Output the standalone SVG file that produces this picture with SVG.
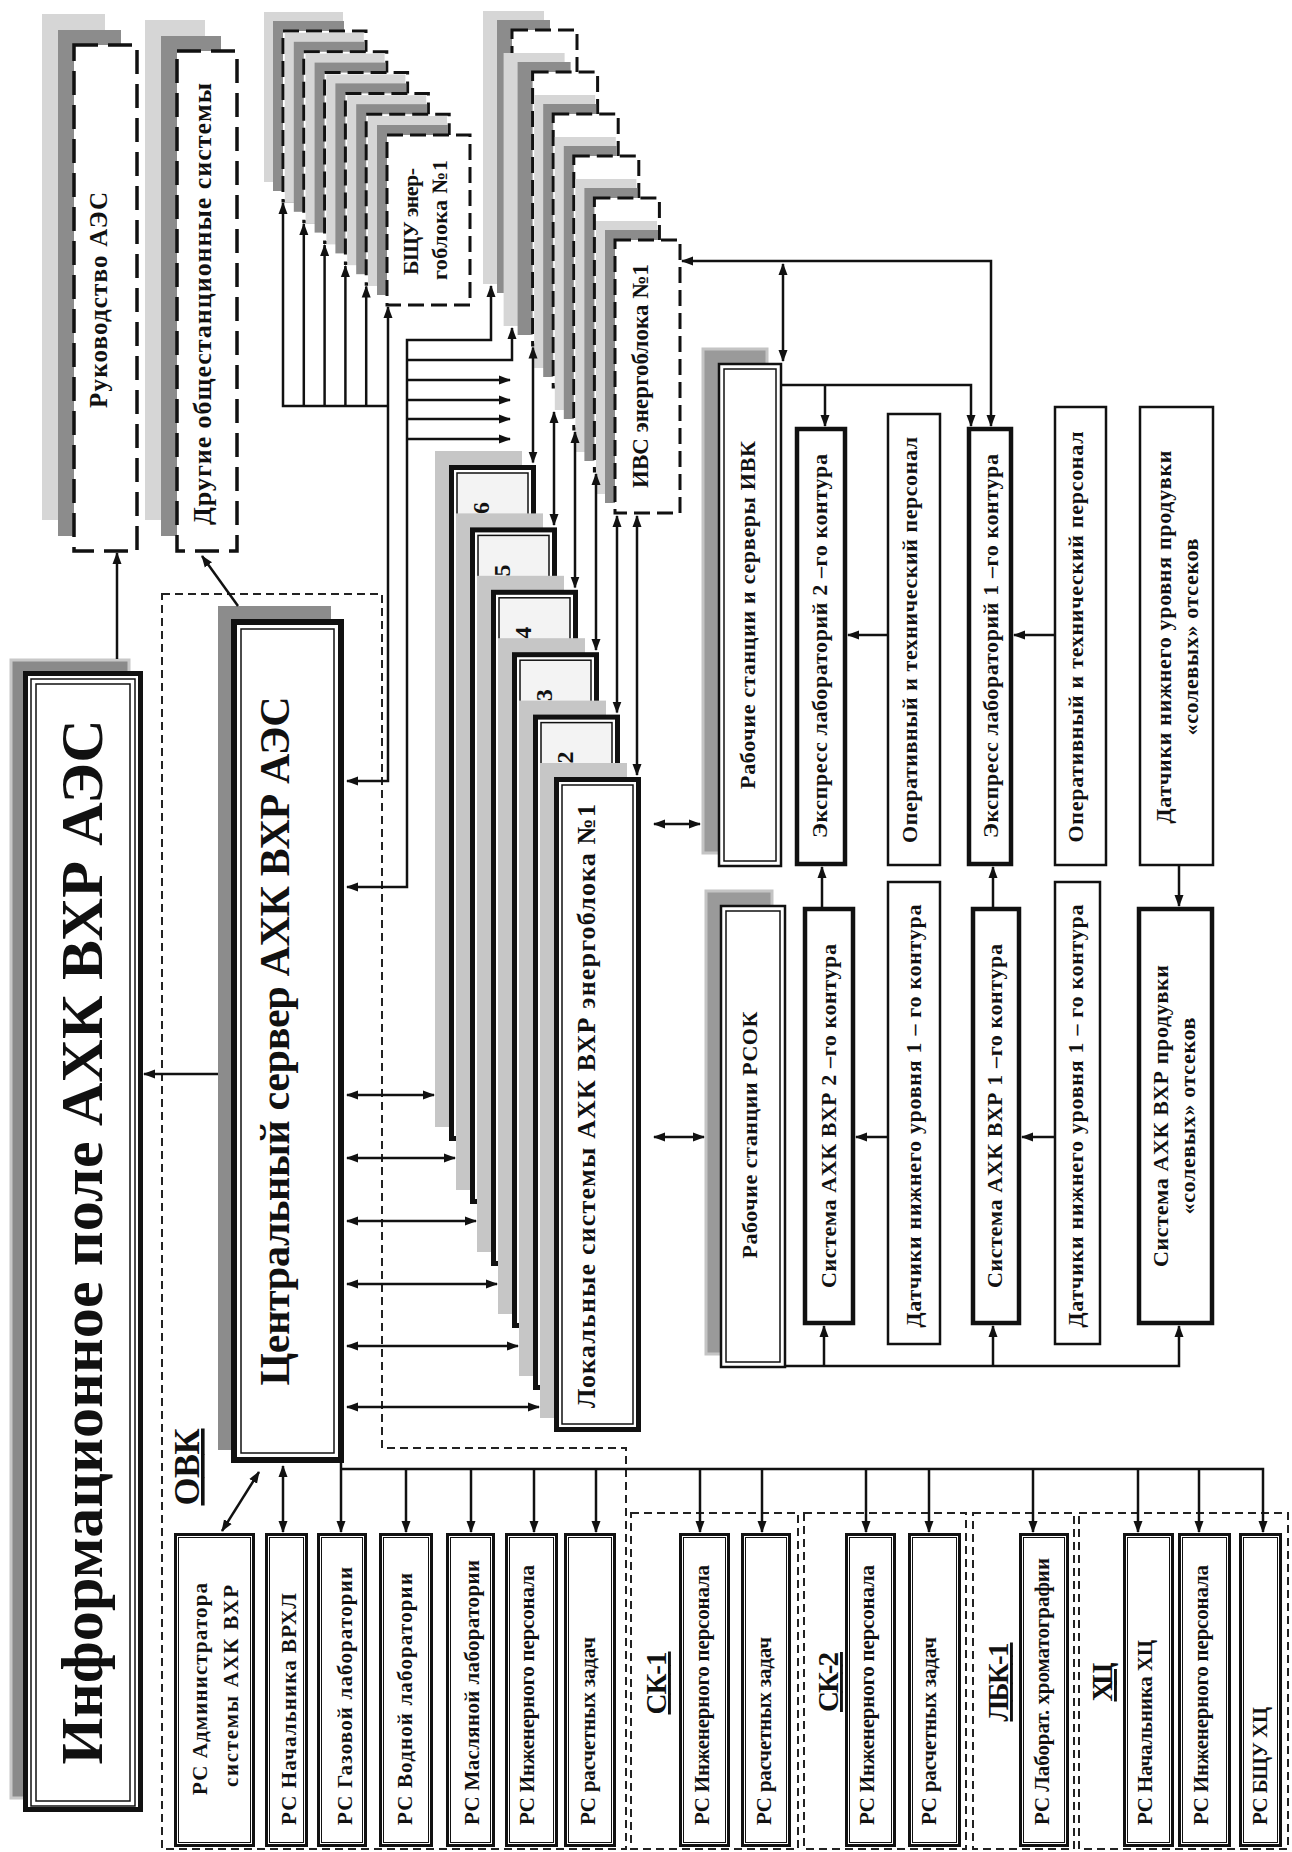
<svg xmlns="http://www.w3.org/2000/svg" width="1292" height="1852" viewBox="0 0 1292 1852">
<defs>
<style>
.t{font-family:"Liberation Serif","Times New Roman",serif;font-weight:bold;fill:#111}
.u{text-decoration:underline}
.c{fill:none;stroke:#111;stroke-width:2.5}
.reg{fill:none;stroke:#222;stroke-width:2;stroke-dasharray:8 5}
.dsh{fill:#fff;stroke:#111;stroke-width:3;stroke-dasharray:16 7}
.dbig{fill:#fff;stroke:#111;stroke-width:3.5;stroke-dasharray:24 10}
.lg{fill:#d6d6d6}
.dg{fill:#8c8c8c}
.ls{fill:#c6c6c6}
.lo{fill:#fff;stroke:#111;stroke-width:5}
.li{fill:#f3f3f3;stroke:#111;stroke-width:1.5}
.li1{fill:#fff;stroke:#111;stroke-width:1.5}
.rc{fill:#fff;stroke:#111;stroke-width:3}
.rci{fill:none;stroke:#111;stroke-width:1}
.thick{fill:#fff;stroke:#111;stroke-width:4.5}
.thin{fill:#fff;stroke:#111;stroke-width:2.5}
</style>
<marker id="ah" viewBox="0 0 12 10" refX="11" refY="5" markerWidth="12" markerHeight="10" markerUnits="userSpaceOnUse" orient="auto-start-reverse"><path d="M0,0.5 L12,5 L0,9.5 z" fill="#111"/></marker>
</defs>
<rect width="1292" height="1852" fill="#fff"/>

<g id="regions">
<path class="reg" d="M162,594 H382 V1448 H626 V1849 H162 Z"/>
<rect class="reg" x="631" y="1513" width="167" height="336"/>
<rect class="reg" x="804" y="1513" width="162" height="336"/>
<rect class="reg" x="973" y="1513" width="101" height="336"/>
<rect class="reg" x="1079" y="1513" width="209" height="336"/>
</g>

<g id="rukovodstvo">
<rect class="lg" x="42" y="14" width="63" height="506"/>
<rect class="dg" x="58" y="30" width="63" height="506"/>
<rect class="dbig" x="74" y="45" width="63" height="506"/>
<text class="t" font-size="25" text-anchor="middle" textLength="216" transform="translate(106.5,300) rotate(-90)">Руководство АЭС</text>
</g>

<g id="drugie">
<rect class="lg" x="145" y="20" width="60" height="500"/>
<rect class="dg" x="161" y="36" width="60" height="500"/>
<rect class="dbig" x="177" y="51" width="60" height="500"/>
<text class="t" font-size="26" text-anchor="middle" textLength="442" transform="translate(211,304) rotate(-90)">Другие общестанционные системы</text>
</g>

<g id="bshu-stack">
<rect class="lg" x="264" y="12" width="79" height="170"/><rect class="dg" x="273" y="21" width="71" height="170"/><rect class="dsh" x="283" y="31" width="83" height="170"/>
<rect class="lg" x="284.8" y="32.8" width="79" height="170"/><rect class="dg" x="293.8" y="41.8" width="71" height="170"/><rect class="dsh" x="303.8" y="51.8" width="83" height="170"/>
<rect class="lg" x="305.6" y="53.6" width="79" height="170"/><rect class="dg" x="314.6" y="62.6" width="71" height="170"/><rect class="dsh" x="324.6" y="72.6" width="83" height="170"/>
<rect class="lg" x="326.4" y="74.4" width="79" height="170"/><rect class="dg" x="335.4" y="83.4" width="71" height="170"/><rect class="dsh" x="345.4" y="93.4" width="83" height="170"/>
<rect class="lg" x="347.2" y="95.2" width="79" height="170"/><rect class="dg" x="356.2" y="104.2" width="71" height="170"/><rect class="dsh" x="366.2" y="114.2" width="83" height="170"/>
<rect class="lg" x="368" y="116" width="79" height="170"/><rect class="dg" x="377" y="125" width="71" height="170"/><rect class="dsh" x="387" y="135" width="83" height="170"/>
<text class="t" font-size="22" text-anchor="middle" textLength="107" transform="translate(417.5,221.5) rotate(-90)">БЩУ энер-</text>
<text class="t" font-size="22" text-anchor="middle" textLength="120" transform="translate(446.5,220) rotate(-90)">гоблока №1</text>
</g>

<g id="ivs-stack">
<rect class="lg" x="483" y="11" width="61" height="273"/><rect class="dg" x="497" y="20" width="53" height="273"/><rect class="dsh" x="512" y="30" width="65" height="273"/>
<rect class="lg" x="503.6" y="53" width="61" height="273"/><rect class="dg" x="517.6" y="62" width="53" height="273"/><rect class="dsh" x="532.6" y="72" width="65" height="273"/>
<rect class="lg" x="534.2" y="95" width="61" height="273"/><rect class="dg" x="543.2" y="104" width="53" height="273"/><rect class="dsh" x="553.2" y="114" width="65" height="273"/>
<rect class="lg" x="554.8" y="137" width="61" height="273"/><rect class="dg" x="563.8" y="146" width="53" height="273"/><rect class="dsh" x="573.8" y="156" width="65" height="273"/>
<rect class="lg" x="575.4" y="179" width="61" height="273"/><rect class="dg" x="584.4" y="188" width="53" height="273"/><rect class="dsh" x="594.4" y="198" width="65" height="273"/>
<rect class="lg" x="596" y="221" width="61" height="273"/><rect class="dg" x="605" y="230" width="53" height="273"/><rect class="dsh" x="615" y="240" width="65" height="273"/>
<text class="t" font-size="23" text-anchor="middle" textLength="224" transform="translate(648,376) rotate(-90)">ИВС энергоблока №1</text>
</g>

<g id="main">
<rect x="11" y="660" width="118" height="1138" fill="#8a8a8a" stroke="#c8c8c8" stroke-width="3"/>
<rect x="25.5" y="673.5" width="115" height="1136" fill="#fff" stroke="#111" stroke-width="5"/>
<rect x="31" y="679" width="104" height="1127" fill="none" stroke="#111" stroke-width="1.5"/>
<rect x="36" y="684" width="94" height="1117" fill="none" stroke="#111" stroke-width="1.5"/>
<text class="t" font-size="60" text-anchor="middle" textLength="1045" transform="translate(101.6,1242) rotate(-90)">Информационное поле АХК ВХР АЭС</text>
</g>

<g id="central">
<rect x="218" y="606" width="113" height="844" fill="#8c8c8c"/>
<rect x="234" y="622" width="107" height="838" fill="#fff" stroke="#111" stroke-width="6"/>
<rect x="241" y="629" width="93" height="824" fill="none" stroke="#111" stroke-width="1.5"/>
<text class="t" font-size="42" text-anchor="middle" textLength="689" transform="translate(289,1041) rotate(-90)">Центральный сервер АХК ВХР АЭС</text>
</g>

<g id="local-stack">
<rect class="ls" x="435" y="451" width="87" height="676"/><rect class="lo" x="451.5" y="467.5" width="82" height="671"/><rect class="li" x="457" y="473" width="71" height="660"/>
<text class="t" font-size="24" text-anchor="end" transform="translate(489,502) rotate(-90)">6</text>
<rect class="ls" x="456" y="513.4" width="87" height="676.6"/><rect class="lo" x="472.5" y="529.9" width="82" height="671.6"/><rect class="li" x="478" y="535.4" width="71" height="660.6"/>
<text class="t" font-size="24" text-anchor="end" transform="translate(510,564.4) rotate(-90)">5</text>
<rect class="ls" x="477" y="575.8" width="87" height="676.2"/><rect class="lo" x="493.5" y="592.3" width="82" height="671.2"/><rect class="li" x="499" y="597.8" width="71" height="660.2"/>
<text class="t" font-size="24" text-anchor="end" transform="translate(531,626.8) rotate(-90)">4</text>
<rect class="ls" x="498" y="638.2" width="87" height="675.8"/><rect class="lo" x="514.5" y="654.7" width="82" height="670.8"/><rect class="li" x="520" y="660.2" width="71" height="659.8"/>
<text class="t" font-size="24" text-anchor="end" transform="translate(552,689.2) rotate(-90)">3</text>
<rect class="ls" x="519" y="700.6" width="87" height="675.4"/><rect class="lo" x="535.5" y="717.1" width="82" height="670.4"/><rect class="li" x="541" y="722.6" width="71" height="659.4"/>
<text class="t" font-size="24" text-anchor="end" transform="translate(573,751.6) rotate(-90)">2</text>
<rect class="ls" x="540" y="763" width="87" height="655"/><rect class="lo" x="556.5" y="779.5" width="82" height="650"/><rect class="li1" x="562" y="785" width="71" height="639"/>
<text class="t" font-size="26" text-anchor="middle" textLength="604" transform="translate(595,1106) rotate(-90)">Локальные системы АХК ВХР энергоблока №1</text>
</g>

<g id="ivk">
<rect x="703" y="349" width="64" height="504" fill="#9a9a9a" stroke="#c4c4c4" stroke-width="3"/>
<rect x="719" y="364" width="62" height="502" fill="#fff" stroke="#111" stroke-width="2.5"/>
<rect x="724" y="369" width="52" height="492" fill="none" stroke="#111" stroke-width="1.5"/>
<text class="t" font-size="22" text-anchor="middle" textLength="348" transform="translate(754.5,615) rotate(-90)">Рабочие станции и серверы ИВК</text>
</g>

<g id="rsok">
<rect x="706" y="891" width="66" height="463" fill="#9a9a9a" stroke="#c4c4c4" stroke-width="3"/>
<rect x="721" y="906" width="64" height="461" fill="#fff" stroke="#111" stroke-width="2.5"/>
<rect x="726" y="911" width="54" height="451" fill="none" stroke="#111" stroke-width="1.5"/>
<text class="t" font-size="22" text-anchor="middle" textLength="247" transform="translate(756.5,1135) rotate(-90)">Рабочие станции РСОК</text>
</g>

<g id="express2">
<rect class="thick" x="797" y="429" width="48" height="435"/>
<text class="t" font-size="22" text-anchor="middle" textLength="384" transform="translate(826.5,646) rotate(-90)">Экспресс лабораторий 2 –го контура</text>
</g>
<g id="oper1">
<rect class="thin" x="888" y="414" width="52" height="451"/>
<text class="t" font-size="22" text-anchor="middle" textLength="406" transform="translate(916.5,640) rotate(-90)">Оперативный и технический персонал</text>
</g>
<g id="express1">
<rect class="thick" x="969" y="429" width="42" height="435"/>
<text class="t" font-size="22" text-anchor="middle" textLength="384" transform="translate(997.5,646) rotate(-90)">Экспресс лабораторий 1 –го контура</text>
</g>
<g id="oper2">
<rect class="thin" x="1055" y="407" width="51" height="458"/>
<text class="t" font-size="22" text-anchor="middle" textLength="411" transform="translate(1082.5,637) rotate(-90)">Оперативный и технический персонал</text>
</g>
<g id="datchiki-produvki">
<rect class="thin" x="1140" y="407" width="73" height="458"/>
<text class="t" font-size="22" text-anchor="middle" textLength="373" transform="translate(1170.5,637) rotate(-90)">Датчики нижнего уровня продувки</text>
<text class="t" font-size="22" text-anchor="middle" textLength="197" transform="translate(1197.5,637) rotate(-90)">«солевых» отсеков</text>
</g>

<g id="sistema2">
<rect class="thick" x="805" y="909" width="48" height="414"/>
<text class="t" font-size="22" text-anchor="middle" textLength="344" transform="translate(835.5,1116) rotate(-90)">Система АХК ВХР 2 –го контура</text>
</g>
<g id="datchiki1a">
<rect class="thin" x="888" y="882" width="52" height="462"/>
<text class="t" font-size="22" text-anchor="middle" textLength="423" transform="translate(920.5,1116) rotate(-90)">Датчики нижнего уровня 1 – го контура</text>
</g>
<g id="sistema1">
<rect class="thick" x="973" y="909" width="46" height="414"/>
<text class="t" font-size="22" text-anchor="middle" textLength="344" transform="translate(1001.5,1116) rotate(-90)">Система АХК ВХР 1 –го контура</text>
</g>
<g id="datchiki1b">
<rect class="thin" x="1055" y="882" width="45" height="462"/>
<text class="t" font-size="22" text-anchor="middle" textLength="423" transform="translate(1082.5,1116) rotate(-90)">Датчики нижнего уровня 1 – го контура</text>
</g>
<g id="sistema-produvki">
<rect class="thick" x="1139" y="909" width="73" height="414"/>
<text class="t" font-size="22" text-anchor="middle" textLength="302" transform="translate(1167.5,1116) rotate(-90)">Система АХК ВХР продувки</text>
<text class="t" font-size="22" text-anchor="middle" textLength="197" transform="translate(1194.5,1116) rotate(-90)">«солевых» отсеков</text>
</g>

<g id="rc-admin">
<rect class="rc" x="175.5" y="1534.5" width="78" height="311"/><rect class="rci" x="178.5" y="1537.5" width="72" height="305"/>
<text class="t" font-size="21" text-anchor="middle" textLength="212" transform="translate(207,1689) rotate(-90)">РС Администратора</text>
<text class="t" font-size="21" text-anchor="middle" textLength="202" transform="translate(238,1686) rotate(-90)">системы АХК ВХР</text>
</g>
<g id="rc-vrhl">
<rect class="rc" x="266.5" y="1534.5" width="40" height="311"/><rect class="rci" x="269.5" y="1537.5" width="34" height="305"/>
<text class="t" font-size="21" textLength="232" transform="translate(296,1825) rotate(-90)">РС Начальника ВРХЛ</text>
</g>
<g id="rc-gas">
<rect class="rc" x="318.5" y="1534.5" width="47" height="311"/><rect class="rci" x="321.5" y="1537.5" width="41" height="305"/>
<text class="t" font-size="21" textLength="258" transform="translate(352,1825) rotate(-90)">РС Газовой лаборатории</text>
</g>
<g id="rc-water">
<rect class="rc" x="380.5" y="1534.5" width="51" height="311"/><rect class="rci" x="383.5" y="1537.5" width="45" height="305"/>
<text class="t" font-size="21" textLength="252" transform="translate(412,1825) rotate(-90)">РС Водной лаборатории</text>
</g>
<g id="rc-oil">
<rect class="rc" x="447.5" y="1534.5" width="46" height="311"/><rect class="rci" x="450.5" y="1537.5" width="40" height="305"/>
<text class="t" font-size="21" textLength="265" transform="translate(479,1825) rotate(-90)">РС Масляной лаборатории</text>
</g>
<g id="rc-eng">
<rect class="rc" x="506.5" y="1534.5" width="50" height="311"/><rect class="rci" x="509.5" y="1537.5" width="44" height="305"/>
<text class="t" font-size="21" textLength="260" transform="translate(534,1825) rotate(-90)">РС Инженерного персонала</text>
</g>
<g id="rc-calc">
<rect class="rc" x="565.5" y="1534.5" width="49" height="311"/><rect class="rci" x="568.5" y="1537.5" width="43" height="305"/>
<text class="t" font-size="21" textLength="188" transform="translate(595,1825) rotate(-90)">РС расчетных задач</text>
</g>
<g id="rc-sk1-eng">
<rect class="rc" x="680.5" y="1534.5" width="48" height="311"/><rect class="rci" x="683.5" y="1537.5" width="42" height="305"/>
<text class="t" font-size="21" textLength="260" transform="translate(709,1825) rotate(-90)">РС Инженерного персонала</text>
</g>
<g id="rc-sk1-calc">
<rect class="rc" x="742.5" y="1534.5" width="47" height="311"/><rect class="rci" x="745.5" y="1537.5" width="41" height="305"/>
<text class="t" font-size="21" textLength="188" transform="translate(771,1825) rotate(-90)">РС расчетных задач</text>
</g>
<g id="rc-sk2-eng">
<rect class="rc" x="846.5" y="1534.5" width="48" height="311"/><rect class="rci" x="849.5" y="1537.5" width="42" height="305"/>
<text class="t" font-size="21" textLength="260" transform="translate(874,1825) rotate(-90)">РС Инженерного персонала</text>
</g>
<g id="rc-sk2-calc">
<rect class="rc" x="909.5" y="1534.5" width="50" height="311"/><rect class="rci" x="912.5" y="1537.5" width="44" height="305"/>
<text class="t" font-size="21" textLength="188" transform="translate(936,1825) rotate(-90)">РС расчетных задач</text>
</g>
<g id="rc-lbk">
<rect class="rc" x="1020.5" y="1534.5" width="47" height="311"/><rect class="rci" x="1023.5" y="1537.5" width="41" height="305"/>
<text class="t" font-size="21" textLength="267" transform="translate(1049,1825) rotate(-90)">РС Лаборат. хроматографии</text>
</g>
<g id="rc-hc-head">
<rect class="rc" x="1124.5" y="1534.5" width="48" height="311"/><rect class="rci" x="1127.5" y="1537.5" width="42" height="305"/>
<text class="t" font-size="21" textLength="185" transform="translate(1152,1825) rotate(-90)">РС Начальника ХЦ</text>
</g>
<g id="rc-hc-eng">
<rect class="rc" x="1179.5" y="1534.5" width="50" height="311"/><rect class="rci" x="1182.5" y="1537.5" width="44" height="305"/>
<text class="t" font-size="21" textLength="260" transform="translate(1208,1825) rotate(-90)">РС Инженерного персонала</text>
</g>
<g id="rc-hc-bshu">
<rect class="rc" x="1240.5" y="1534.5" width="40" height="311"/><rect class="rci" x="1243.5" y="1537.5" width="34" height="305"/>
<text class="t" font-size="21" textLength="118" transform="translate(1267,1825) rotate(-90)">РС БЩУ ХЦ</text>
</g>

<g id="labels">
<text class="t u" font-size="36" text-anchor="middle" textLength="77" transform="translate(199,1467) rotate(-90)">ОВК</text>
<text class="t u" font-size="29" text-anchor="middle" textLength="63" transform="translate(666,1683) rotate(-90)">СК-1</text>
<text class="t u" font-size="29" text-anchor="middle" textLength="60" transform="translate(838,1682) rotate(-90)">СК-2</text>
<text class="t u" font-size="29" text-anchor="middle" textLength="79" transform="translate(1008,1682) rotate(-90)">ЛБК-1</text>
<text class="t u" font-size="29" text-anchor="middle" textLength="39" transform="translate(1112,1682) rotate(-90)">ХЦ</text>
</g>

<g id="connectors">
<path class="c" d="M117,659 V553" marker-end="url(#ah)"/>
<path class="c" d="M238,606 L202,556" marker-end="url(#ah)"/>
<path class="c" d="M218,1074 H144" marker-end="url(#ah)"/>
<path class="c" d="M347,781 H388 V307" marker-start="url(#ah)" marker-end="url(#ah)"/>
<path class="c" d="M388,406 H283 V203" marker-end="url(#ah)"/>
<path class="c" d="M303.8,406 V224" marker-end="url(#ah)"/>
<path class="c" d="M324.6,406 V245" marker-end="url(#ah)"/>
<path class="c" d="M345.4,406 V266" marker-end="url(#ah)"/>
<path class="c" d="M366.2,406 V286.5" marker-end="url(#ah)"/>
<path class="c" d="M347,887 H407 V340 H491 V286" marker-start="url(#ah)" marker-end="url(#ah)"/>
<path class="c" d="M407,360 H512 V328" marker-end="url(#ah)"/>
<path class="c" d="M407,380 H510" marker-end="url(#ah)"/>
<path class="c" d="M407,400 H510" marker-end="url(#ah)"/>
<path class="c" d="M407,419 H510" marker-end="url(#ah)"/>
<path class="c" d="M407,439 H510" marker-end="url(#ah)"/>
<path class="c" d="M533,347.5 V462.5" marker-start="url(#ah)" marker-end="url(#ah)"/>
<path class="c" d="M554,412 V525" marker-start="url(#ah)" marker-end="url(#ah)"/>
<path class="c" d="M575,432 V587.5" marker-start="url(#ah)" marker-end="url(#ah)"/>
<path class="c" d="M596,474 V650" marker-start="url(#ah)" marker-end="url(#ah)"/>
<path class="c" d="M617,516 V712.5" marker-start="url(#ah)" marker-end="url(#ah)"/>
<path class="c" d="M637,516 V775" marker-start="url(#ah)" marker-end="url(#ah)"/>
<path class="c" d="M347,1095 H434" marker-start="url(#ah)" marker-end="url(#ah)"/>
<path class="c" d="M347,1158 H455" marker-start="url(#ah)" marker-end="url(#ah)"/>
<path class="c" d="M347,1221 H476" marker-start="url(#ah)" marker-end="url(#ah)"/>
<path class="c" d="M347,1284 H497" marker-start="url(#ah)" marker-end="url(#ah)"/>
<path class="c" d="M347,1346 H518" marker-start="url(#ah)" marker-end="url(#ah)"/>
<path class="c" d="M347,1407 H539" marker-start="url(#ah)" marker-end="url(#ah)"/>
<path class="c" d="M654,824 H700" marker-start="url(#ah)" marker-end="url(#ah)"/>
<path class="c" d="M654,1137 H704" marker-start="url(#ah)" marker-end="url(#ah)"/>
<path class="c" d="M682,261 H991 V426" marker-start="url(#ah)" marker-end="url(#ah)"/>
<path class="c" d="M783,264 V361" marker-start="url(#ah)" marker-end="url(#ah)"/>
<path class="c" d="M782,385 H971 V426" marker-end="url(#ah)"/>
<path class="c" d="M825,385 V426" marker-end="url(#ah)"/>
<path class="c" d="M887,635 H848" marker-end="url(#ah)"/>
<path class="c" d="M1054,635 H1014" marker-end="url(#ah)"/>
<path class="c" d="M1179,866 V906" marker-end="url(#ah)"/>
<path class="c" d="M822,907 V867" marker-end="url(#ah)"/>
<path class="c" d="M993,907 V867" marker-end="url(#ah)"/>
<path class="c" d="M887,1137 H856" marker-end="url(#ah)"/>
<path class="c" d="M1054,1137 H1022" marker-end="url(#ah)"/>
<path class="c" d="M786,1366 H1179 V1326" marker-end="url(#ah)"/>
<path class="c" d="M824,1366 V1326" marker-end="url(#ah)"/>
<path class="c" d="M993,1366 V1326" marker-end="url(#ah)"/>
<path class="c" d="M259,1472 L222,1531" marker-start="url(#ah)" marker-end="url(#ah)"/>
<path class="c" d="M283,1466 V1532" marker-start="url(#ah)" marker-end="url(#ah)"/>
<path class="c" d="M341,1463 V1532" marker-end="url(#ah)"/>
<path class="c" d="M341,1469 H1263 V1532" marker-end="url(#ah)"/>
<path class="c" d="M406,1469 V1532" marker-end="url(#ah)"/>
<path class="c" d="M471,1469 V1532" marker-end="url(#ah)"/>
<path class="c" d="M534,1469 V1532" marker-end="url(#ah)"/>
<path class="c" d="M596,1469 V1532" marker-end="url(#ah)"/>
<path class="c" d="M700,1469 V1532" marker-end="url(#ah)"/>
<path class="c" d="M762,1469 V1532" marker-end="url(#ah)"/>
<path class="c" d="M866,1469 V1532" marker-end="url(#ah)"/>
<path class="c" d="M929,1469 V1532" marker-end="url(#ah)"/>
<path class="c" d="M1033,1469 V1532" marker-end="url(#ah)"/>
<path class="c" d="M1138,1469 V1532" marker-end="url(#ah)"/>
<path class="c" d="M1199,1469 V1532" marker-end="url(#ah)"/>
</g>
</svg>
